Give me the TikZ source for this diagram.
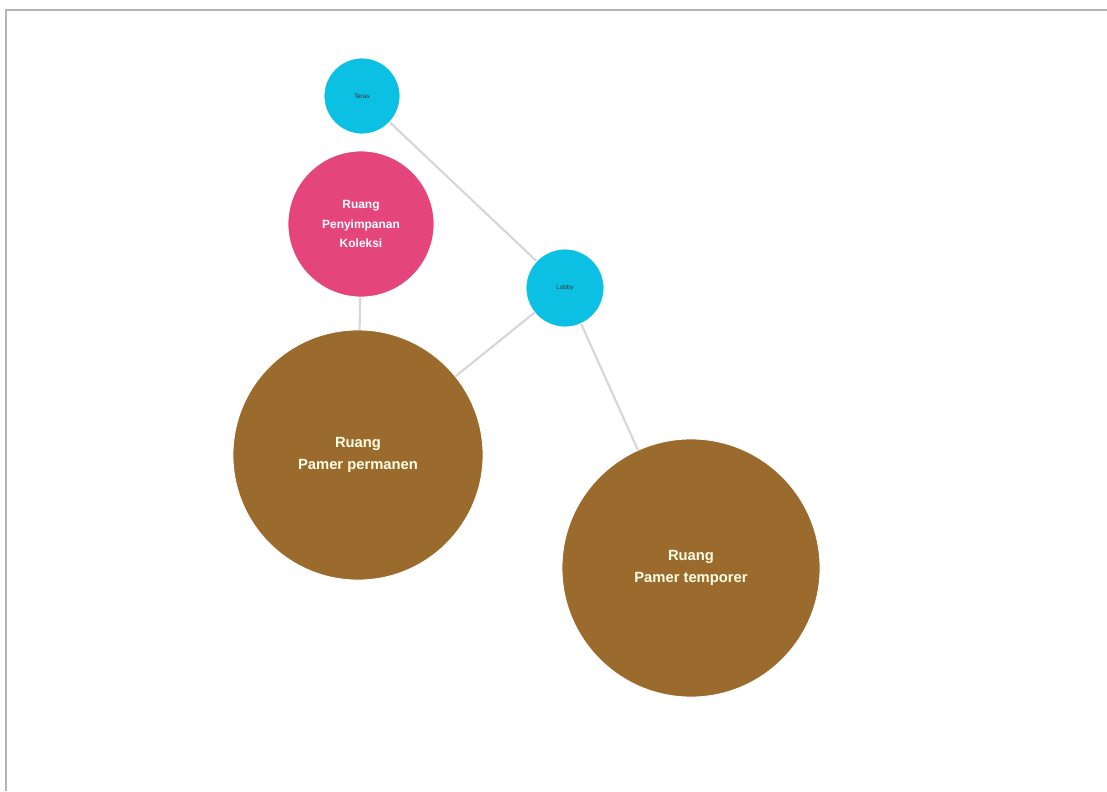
\documentclass[tikz,border=0pt]{standalone}
\usepackage{fontspec}
\setmainfont{Liberation Sans}
\usepackage{xcolor}
\usepackage{tikz}
\definecolor{RoomCyan}{HTML}{0CC0E4}
\definecolor{RoomPink}{HTML}{E4467C}
\definecolor{RoomBrown}{HTML}{9B6B2E}
\definecolor{LinkGrey}{HTML}{D6D6D6}
\definecolor{FrameGrey}{HTML}{B4B4B4}

\begin{document}
\begin{tikzpicture}[x=0.025cm, y=-0.025cm]
      \useasboundingbox (0,0) rectangle (1107,791);
      \tikzset{
        room/.style={circle, inner sep=0pt, align=center, draw=white, line width=0.6pt},
        hub/.style={room, fill=RoomCyan, text=black!80, font=\fontsize{4.5}{5.5}\selectfont},
        store/.style={room, fill=RoomPink, text=white, font=\bfseries\fontsize{8.5}{14}\selectfont},
        hall/.style={room, fill=RoomBrown, text=white!90!yellow, font=\bfseries\fontsize{10.5}{15.5}\selectfont},
        link/.style={LinkGrey, line width=1.5pt}
      }
      % Frame
      \draw[FrameGrey, line width=2pt] (6,791) -- (6,10) -- (1107,10);
      % Rooms
      \node[hub, minimum size=1.9cm] (teras) at (362,96) {Teras};
      \node[store, minimum size=3.65cm] (simpan) at (361,224) {Ruang\\Penyimpanan\\Koleksi};
      \node[hub, minimum size=1.95cm] (lobby) at (565,288) {Lobby};
      \node[hall, minimum size=6.25cm] (tetap) at (358,455) {Ruang\\Pamer permanen};
      \node[hall, minimum size=6.45cm] (temporer) at (691,568) {Ruang\\Pamer temporer};
      % Links
      \draw[link] (teras) -- (lobby);
      \draw[link] (simpan) -- (tetap);
      \draw[link] (lobby) -- (tetap);
      \draw[link] (lobby) -- (temporer);
    \end{tikzpicture}
\end{document}
